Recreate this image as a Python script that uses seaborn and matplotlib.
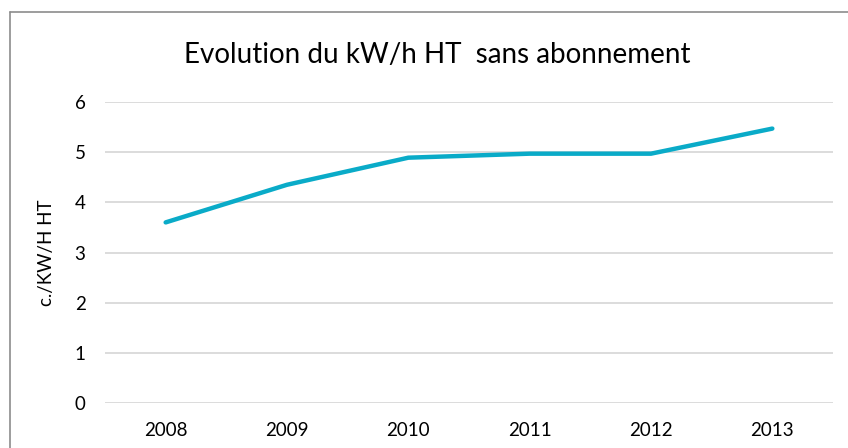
import matplotlib
matplotlib.use("Agg")
import matplotlib.pyplot as plt
import seaborn as sns
import pandas as pd
from matplotlib.lines import Line2D

years = ["2008", "2009", "2010", "2011", "2012", "2013"]
values = [3.6, 4.35, 4.89, 4.97, 4.97, 5.47]
yticks = [0, 1, 2, 3, 4, 5, 6]

sns.set_theme(style="white")
plt.rcParams['font.family'] = ['Lato', 'DejaVu Sans']

df = pd.DataFrame({"year": years, "value": values})

fig = plt.figure(figsize=(8.48, 4.48), dpi=100)
ax = fig.add_axes([105/848, 1-403/448, 728/848, 301/448])

sns.lineplot(data=df, x="year", y="value", ax=ax, color="#0AABC8",
             linewidth=3.2, solid_capstyle="round", sort=False)

ax.set_xlim(-0.5, 5.5)
ax.set_ylim(0, 6)
ax.set_yticks(yticks)
ax.set_yticklabels([str(t) for t in yticks])
ax.yaxis.grid(True, color="#D9D9D9", linewidth=1.3)
ax.xaxis.grid(False)
ax.set_axisbelow(True)
for s in ax.spines.values():
    s.set_visible(False)
ax.tick_params(axis="both", length=0, labelsize=13.5, colors="#000000")
ax.tick_params(axis="y", pad=14)
ax.tick_params(axis="x", pad=14)
ax.set_xlabel("")
ax.set_ylabel("c./KW/H HT", fontsize=13.5, color="#000000", labelpad=14)

fig.text(437/848, 1-55/448, "Evolution du kW/h HT  sans abonnement",
         ha="center", va="center", fontsize=20, color="#000000")

# outer chart frame (partially visible)
fig.add_artist(Line2D([10/848, 10/848], [0, 1-12/448], transform=fig.transFigure,
                      color="#8C8C8C", linewidth=1.2))
fig.add_artist(Line2D([10/848, 1], [1-12/448, 1-12/448], transform=fig.transFigure,
                      color="#8C8C8C", linewidth=1.2))

fig.savefig("out.png", dpi=100, facecolor="white")
